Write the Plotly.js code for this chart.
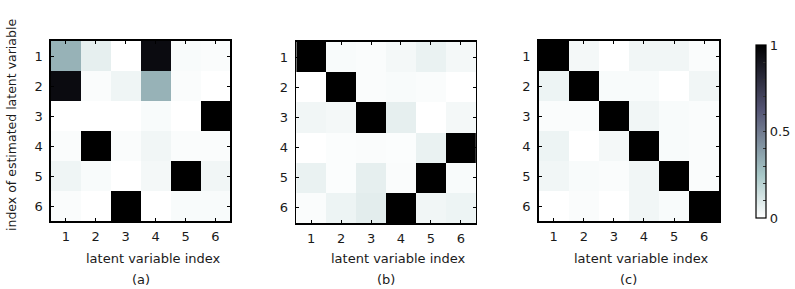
<!DOCTYPE html>
<html>
<head>
<meta charset="utf-8">
<script src="https://cdn.plot.ly/plotly-3.0.1.min.js"></script>
<style>html,body{margin:0;padding:0;background:#fff;}#chart{width:795px;height:289px;}</style>
</head>
<body>
<div id="chart"></div>
<script>
// Indices
const latentIdx = [1, 2, 3, 4, 5, 6];
const estimatedIdx = [1, 2, 3, 4, 5, 6];

// Panel (a) values (rows = estimated latent variable, cols = latent variable)
const valuesA = [
  [0.32, 0.07, 0.00, 0.95, 0.02, 0.015],
  [0.95, 0.015, 0.045, 0.32, 0.015, 0.00],
  [0.00, 0.00, 0.00, 0.02, 0.00, 1.00],
  [0.015, 1.00, 0.015, 0.04, 0.015, 0.015],
  [0.045, 0.02, 0.00, 0.03, 1.00, 0.04],
  [0.015, 0.00, 1.00, 0.00, 0.02, 0.02]
];
// Panel (b)
const valuesB = [
  [1.00, 0.02, 0.015, 0.03, 0.06, 0.03],
  [0.00, 1.00, 0.015, 0.02, 0.015, 0.00],
  [0.04, 0.03, 1.00, 0.07, 0.00, 0.03],
  [0.00, 0.01, 0.015, 0.01, 0.06, 1.00],
  [0.06, 0.01, 0.07, 0.015, 1.00, 0.02],
  [0.015, 0.05, 0.08, 1.00, 0.04, 0.05]
];
// Panel (c)
const valuesC = [
  [1.00, 0.03, 0.00, 0.04, 0.04, 0.015],
  [0.05, 1.00, 0.02, 0.02, 0.00, 0.04],
  [0.015, 0.015, 1.00, 0.04, 0.02, 0.015],
  [0.05, 0.00, 0.03, 1.00, 0.02, 0.015],
  [0.04, 0.02, 0.015, 0.04, 1.00, 0.015],
  [0.00, 0.015, 0.00, 0.04, 0.02, 1.00]
];
const panelLabels = ['(a)', '(b)', '(c)'];
const xTitle = 'latent variable index';
const yTitle = 'index of estimated latent variable';
const cbTickVals = [0, 0.1, 0.2, 0.3, 0.4, 0.5, 0.6, 0.7, 0.8, 0.9, 1];
const cbTickText = ['0', '', '', '', '', '0.5', '', '', '', '', '1'];

// reversed "bone" colormap
const boneR = [
  [0.0, 'rgb(255,255,255)'],
  [0.125, 'rgb(211,227,227)'],
  [0.25, 'rgb(167,199,199)'],
  [0.375, 'rgb(139,161,171)'],
  [0.5, 'rgb(112,122,143)'],
  [0.625, 'rgb(84,84,116)'],
  [0.75, 'rgb(56,56,77)'],
  [0.875, 'rgb(28,28,39)'],
  [1.0, 'rgb(0,0,0)']
];

const W = 795, H = 289;
const font = {family: 'DejaVu Sans, sans-serif', size: 13, color: '#1a1a1a'};
const panels = [
  {z: valuesA, x0: 51, x1: 231, y0: 41, y1: 221},
  {z: valuesB, x0: 297, x1: 477, y0: 42, y1: 223},
  {z: valuesC, x0: 540, x1: 721, y0: 41, y1: 221}
];

const data = [];
const layout = {
  width: W, height: H,
  margin: {l: 0, r: 0, t: 0, b: 0},
  paper_bgcolor: '#fff', plot_bgcolor: '#fff',
  font: font,
  showlegend: false,
  annotations: []
};

panels.forEach((p, i) => {
  const sx = i === 0 ? '' : String(i + 1);
  const tr = {
    type: 'heatmap',
    x: latentIdx, y: estimatedIdx, z: p.z,
    zmin: 0, zmax: 1,
    colorscale: boneR,
    xaxis: 'x' + sx, yaxis: 'y' + sx,
    showscale: i === 2,
    hoverinfo: 'skip'
  };
  if (i === 2) {
    tr.colorbar = {
      x: 758 / W, xanchor: 'left',
      y: 1 - 131.5 / H, yanchor: 'middle',
      len: 173, lenmode: 'pixels',
      thickness: 10, thicknessmode: 'pixels',
      outlinewidth: 1.2, outlinecolor: '#000',
      tickvals: cbTickVals, ticktext: cbTickText,
      ticks: 'inside', ticklen: 3, tickcolor: '#333',
      tickfont: font, xpad: 0, ypad: 0
    };
  }
  data.push(tr);
  const axCommon = {
    showline: true, linecolor: '#000', linewidth: 1.6, mirror: 'ticks',
    ticks: 'inside', ticklen: 3, tickcolor: '#000', tickwidth: 1,
    showgrid: false, zeroline: false, tickfont: font,
    tickvals: latentIdx, fixedrange: true
  };
  layout['xaxis' + sx] = Object.assign({}, axCommon, {
    domain: [p.x0 / W, p.x1 / W], range: [0.5, 6.5],
    anchor: 'y' + sx, ticklabelstandoff: 3
  });
  layout['yaxis' + sx] = Object.assign({}, axCommon, {
    domain: [1 - p.y1 / H, 1 - p.y0 / H], range: [6.5, 0.5],
    anchor: 'x' + sx, ticklabelstandoff: 4
  });
  const cx = (p.x0 + p.x1) / 2;
  layout.annotations.push({
    text: xTitle, xref: 'paper', yref: 'paper',
    x: (cx + 13) / W, y: 1 - 258 / H, xanchor: 'center', yanchor: 'middle',
    showarrow: false, font: font
  });
  layout.annotations.push({
    text: panelLabels[i], xref: 'paper', yref: 'paper',
    x: (cx) / W, y: 1 - 279 / H, xanchor: 'center', yanchor: 'middle',
    showarrow: false, font: font
  });
});
layout.annotations.push({
  text: yTitle, xref: 'paper', yref: 'paper',
  x: 12 / W, y: 1 - 125 / H, xanchor: 'center', yanchor: 'middle',
  textangle: -90, showarrow: false, font: Object.assign({}, font, {size: 12.5})
});

Plotly.newPlot('chart', data, layout, {displayModeBar: false, staticPlot: true});
</script>
</body>
</html>
